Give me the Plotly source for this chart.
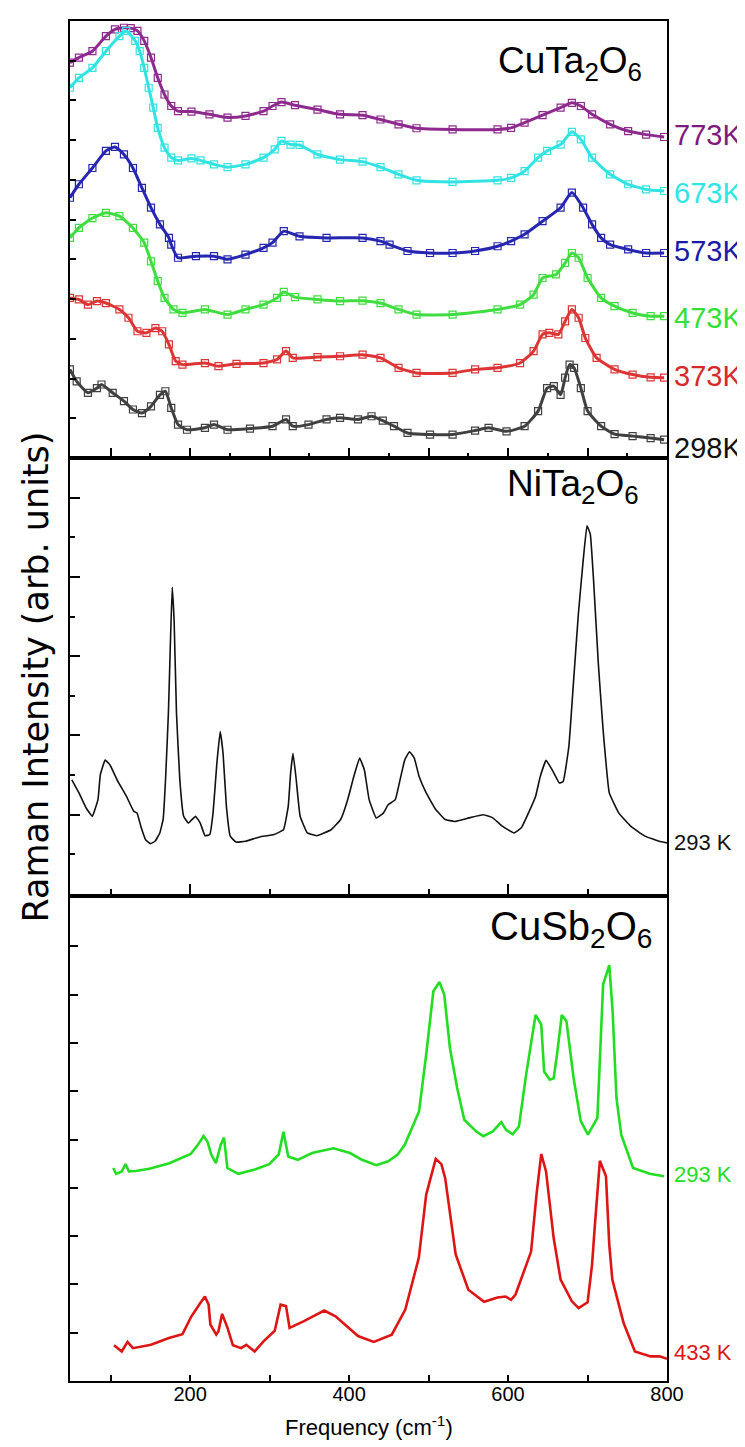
import plotly.graph_objects as go

# ---------------- data ----------------
# Top panel: CuTa2O6 at several temperatures (x in cm^-1, y in arb. units, offset stacked)
x_773 = [48.7, 60.0, 77.0, 94.0, 105.4, 116.7, 125.2, 133.7, 142.2, 150.7, 159.2, 167.7, 176.2, 184.7, 201.6,
         224.3, 247.0, 269.6, 292.3, 303.6, 314.9, 331.9, 360.2, 388.6, 416.9, 439.5, 462.2, 484.8, 530.2, 586.8,
         603.8, 620.8, 643.4, 666.1, 680.3, 691.6, 705.7, 728.4, 751.1, 773.7, 796.4]
y_773 = [9.95, 10.08, 10.24, 10.62, 10.79, 10.83, 10.82, 10.75, 10.50, 10.08, 9.57, 9.15, 8.86, 8.73, 8.72,
         8.65, 8.57, 8.61, 8.73, 8.86, 8.96, 8.88, 8.77, 8.65, 8.63, 8.52, 8.40, 8.30, 8.27, 8.27,
         8.31, 8.44, 8.63, 8.82, 8.94, 8.86, 8.65, 8.40, 8.23, 8.14, 8.08]

x_673 = [48.7, 60.0, 77.0, 94.0, 111.0, 119.5, 130.8, 136.5, 142.2, 147.8, 153.5, 159.2, 167.7, 176.2, 184.7,
         201.6, 213.0, 230.0, 247.0, 269.6, 292.3, 306.4, 314.9, 326.3, 337.6, 360.2, 388.6, 416.9, 439.5, 462.2,
         484.8, 530.2, 586.8, 603.8, 620.8, 637.8, 649.1, 666.1, 680.3, 691.6, 705.7, 728.4, 751.1, 773.7, 796.4]
y_673 = [9.32, 9.57, 9.82, 10.24, 10.62, 10.75, 10.50, 10.24, 9.82, 9.32, 8.82, 8.31, 7.81, 7.56, 7.49,
         7.54, 7.49, 7.39, 7.32, 7.39, 7.56, 7.77, 7.98, 7.89, 7.88, 7.64, 7.51, 7.46, 7.32, 7.14,
         6.99, 6.95, 6.99, 7.05, 7.22, 7.56, 7.73, 7.89, 8.21, 8.02, 7.56, 7.14, 6.89, 6.76, 6.72]

x_573 = [48.7, 60.0, 77.0, 94.0, 105.4, 116.7, 128.0, 139.3, 150.7, 162.0, 173.3, 176.2, 184.7, 207.3, 230.0,
         247.0, 269.6, 292.3, 303.6, 317.8, 337.6, 371.6, 416.9, 439.5, 450.9, 473.5, 501.8, 530.2, 558.5, 586.8,
         603.8, 620.8, 643.4, 666.1, 680.3, 694.4, 705.7, 717.1, 728.4, 751.1, 773.7, 796.4]
y_573 = [6.55, 6.89, 7.30, 7.73, 7.83, 7.64, 7.30, 6.80, 6.30, 5.88, 5.54, 5.37, 5.04, 5.08, 5.08,
         5.00, 5.12, 5.29, 5.42, 5.71, 5.58, 5.54, 5.54, 5.46, 5.37, 5.21, 5.16, 5.16, 5.21, 5.33,
         5.46, 5.63, 5.96, 6.30, 6.68, 6.30, 5.88, 5.54, 5.37, 5.25, 5.16, 5.16]

x_473 = [48.7, 60.0, 77.0, 94.0, 111.0, 128.0, 142.2, 150.7, 159.2, 167.7, 179.0, 190.3, 218.6, 247.0, 269.6,
         292.3, 309.3, 317.8, 331.9, 360.2, 388.6, 416.9, 439.5, 462.2, 484.8, 530.2, 586.8, 615.1, 632.1, 643.4,
         660.4, 671.8, 680.3, 688.8, 700.1, 717.1, 734.0, 756.7, 779.4, 796.4]
y_473 = [5.54, 5.79, 6.04, 6.17, 6.09, 5.79, 5.42, 4.95, 4.45, 4.03, 3.74, 3.65, 3.74, 3.61, 3.74,
         3.86, 4.03, 4.18, 4.05, 3.99, 3.95, 3.96, 3.90, 3.74, 3.61, 3.61, 3.74, 3.86, 4.11, 4.53,
         4.62, 4.91, 5.16, 5.04, 4.53, 4.03, 3.82, 3.65, 3.57, 3.57]

x_373 = [48.7, 60.0, 71.4, 82.7, 94.0, 111.0, 122.4, 133.7, 145.0, 156.3, 164.8, 173.3, 181.8, 190.3, 218.6,
         235.6, 258.3, 292.3, 309.3, 320.6, 329.1, 360.2, 388.6, 416.9, 439.5, 462.2, 484.8, 530.2, 558.5, 586.8,
         615.1, 632.1, 643.4, 651.9, 663.3, 671.8, 680.3, 688.8, 697.2, 711.4, 734.0, 756.7, 779.4, 796.4]
y_373 = [4.03, 3.99, 3.86, 3.95, 3.90, 3.74, 3.53, 3.19, 3.15, 3.27, 3.19, 2.86, 2.44, 2.35, 2.39,
         2.31, 2.37, 2.39, 2.48, 2.69, 2.52, 2.54, 2.56, 2.60, 2.52, 2.27, 2.14, 2.14, 2.23, 2.27,
         2.39, 2.69, 3.11, 3.15, 3.11, 3.44, 3.74, 3.53, 3.02, 2.52, 2.23, 2.10, 2.03, 2.02]

x_298 = [48.7, 57.2, 71.4, 82.7, 88.4, 102.5, 116.7, 128.0, 139.3, 150.7, 162.0, 168.8, 176.2, 184.7, 196.0,
         218.6, 230.0, 247.0, 275.3, 303.6, 320.6, 329.1, 348.9, 371.6, 388.6, 411.2, 428.2, 442.4, 456.5, 473.5,
         501.8, 530.2, 558.5, 575.5, 598.1, 620.8, 637.8, 649.1, 657.6, 666.1, 671.8, 677.4, 683.1, 691.6, 700.1,
         717.1, 734.0, 756.7, 779.4, 796.4]
y_298 = [2.23, 1.93, 1.64, 1.76, 1.85, 1.64, 1.43, 1.22, 1.13, 1.30, 1.59, 1.68, 1.26, 0.84, 0.71,
         0.76, 0.84, 0.71, 0.74, 0.80, 0.97, 0.80, 0.84, 0.97, 1.01, 0.97, 1.05, 0.94, 0.80, 0.63,
         0.59, 0.59, 0.69, 0.76, 0.67, 0.80, 1.18, 1.76, 1.81, 1.59, 2.02, 2.35, 2.27, 1.76, 1.18,
         0.80, 0.60, 0.55, 0.50, 0.46]

# Middle panel: NiTa2O6 at 293 K
x_ni = [51.1, 60.1, 69.1, 76.8, 84.0, 87.0, 93.0, 99.0, 108.0, 119.9, 128.9, 133.1, 137.9, 143.9, 149.9,
        155.8, 161.8, 166.0, 169.0, 172.6, 175.0, 177.4, 179.8, 182.8, 187.0, 191.8, 197.7, 206.7, 212.7, 218.7,
        224.7, 228.8, 233.6, 237.8, 241.4, 245.6, 250.4, 257.6, 269.6, 287.5, 305.5, 317.4, 323.4, 326.4, 329.4,
        333.0, 338.4, 347.4, 359.3, 377.3, 389.3, 398.2, 406.0, 413.2, 419.2, 425.2, 434.1, 443.1, 449.1, 458.1,
        464.1, 470.0, 476.0, 482.0, 488.0, 497.0, 509.0, 520.9, 532.9, 550.8, 568.8, 580.8, 592.7, 607.7, 616.7,
        625.6, 634.6, 640.6, 647.8, 655.6, 664.6, 669.4, 676.5, 682.5, 688.5, 694.5, 699.3, 703.5, 707.6, 713.6,
        719.6, 727.4, 739.4, 754.3, 772.3, 790.2, 800.0]
y_ni = [2.88, 2.55, 2.17, 1.96, 2.38, 3.01, 3.38, 3.26, 2.88, 2.46, 2.09, 2.04, 1.71, 1.37, 1.27,
        1.33, 1.54, 1.88, 2.88, 4.56, 6.23, 7.74, 6.90, 4.56, 2.88, 1.96, 1.79, 1.96, 1.79, 1.47,
        1.50, 2.04, 3.30, 4.10, 3.55, 2.21, 1.46, 1.31, 1.33, 1.44, 1.50, 1.62, 2.21, 3.05, 3.55,
        2.97, 1.96, 1.54, 1.47, 1.62, 1.88, 2.38, 2.97, 3.43, 3.13, 2.38, 1.92, 2.04, 2.25, 2.38,
        2.88, 3.38, 3.59, 3.43, 2.97, 2.55, 2.13, 1.88, 1.83, 1.92, 2.00, 1.92, 1.71, 1.54, 1.67,
        2.04, 2.46, 2.97, 3.37, 3.13, 2.80, 2.84, 3.72, 5.39, 7.07, 8.41, 9.29, 9.08, 7.91, 5.81,
        4.14, 2.55, 2.04, 1.71, 1.46, 1.33, 1.29]

# Bottom panel: CuSb2O6 at 293 K and 433 K
x_sb293 = [103.2, 106.8, 114.0, 118.7, 122.9, 131.9, 149.9, 173.8, 200.7, 209.7, 216.9, 221.7, 226.5, 232.4, 238.4,
           242.6, 246.8, 260.6, 281.5, 299.5, 311.4, 317.4, 323.4, 335.4, 353.3, 380.3, 401.2, 416.2, 434.1, 449.1,
           461.1, 470.0, 488.0, 497.0, 506.0, 513.7, 519.7, 526.9, 535.9, 544.9, 559.8, 568.8, 580.8, 591.5, 597.5,
           605.9, 613.7, 622.7, 634.6, 641.8, 645.4, 652.6, 657.4, 661.6, 667.6, 673.5, 682.5, 691.5, 700.5, 712.4,
           719.6, 727.4, 731.6, 736.4, 742.4, 757.3, 778.3, 796.2]
y_sb293 = [4.41, 4.29, 4.34, 4.49, 4.34, 4.35, 4.40, 4.51, 4.70, 4.89, 5.07, 4.96, 4.69, 4.51, 4.89,
           5.04, 4.41, 4.29, 4.38, 4.49, 4.69, 5.16, 4.65, 4.58, 4.72, 4.82, 4.72, 4.58, 4.47, 4.55,
           4.69, 4.89, 5.58, 6.76, 8.07, 8.26, 8.00, 6.89, 6.07, 5.41, 5.17, 5.07, 5.17, 5.36, 5.20,
           5.11, 5.27, 6.34, 7.58, 7.38, 6.41, 6.24, 6.27, 6.76, 7.58, 7.45, 6.27, 5.38, 5.10, 5.45,
           8.21, 8.61, 7.65, 5.86, 5.10, 4.41, 4.29, 4.24]

x_sb433 = [104.2, 113.9, 121.2, 128.0, 150.7, 173.3, 190.3, 201.6, 213.0, 218.6, 223.2, 225.4, 232.8, 235.6, 240.2,
           247.0, 253.8, 264.0, 270.7, 281.1, 292.3, 306.4, 313.8, 320.6, 325.1, 343.2, 368.7, 382.9, 411.2, 431.0,
           453.7, 470.7, 487.7, 497.0, 509.0, 516.1, 520.9, 534.1, 550.0, 569.8, 586.8, 597.0, 603.8, 609.4, 629.0,
           635.8, 641.8, 647.8, 657.4, 666.1, 680.3, 688.8, 700.1, 705.7, 709.0, 715.5, 723.2, 727.4, 731.2, 745.4,
           759.6, 779.4, 790.7, 800.0]
y_sb433 = [0.74, 0.61, 0.81, 0.68, 0.75, 0.89, 0.97, 1.34, 1.62, 1.75, 1.58, 1.17, 0.96, 1.03, 1.39,
           1.10, 0.74, 0.68, 0.75, 0.61, 0.82, 1.04, 1.58, 1.55, 1.10, 1.24, 1.46, 1.34, 0.93, 0.81,
           0.96, 1.48, 2.55, 3.86, 4.60, 4.49, 4.20, 2.62, 1.89, 1.64, 1.73, 1.75, 1.68, 1.79, 2.68,
           3.86, 4.70, 4.34, 2.96, 2.10, 1.65, 1.51, 1.63, 2.41, 3.17, 4.56, 4.24, 2.82, 2.10, 1.20,
           0.61, 0.51, 0.51, 0.46]

top_labels = ["773K", "673K", "573K", "473K", "373K", "298K"]
top_label_y = [8.13, 6.68, 5.21, 3.53, 2.07, 0.25]
top_colors = ["#8E2A8E", "#33E3E3", "#2626B0", "#40DD40", "#DD3535", "#404040"]
top_label_colors = ["#7E1A7E", "#2EE6E6", "#1A1AA8", "#35E035", "#D62A2A", "#111111"]

x_range = [48.8, 800]

# ---------------- figure ----------------
fig = go.Figure()
FONT = "Arial, Liberation Sans, sans-serif"

top_x = [x_773, x_673, x_573, x_473, x_373, x_298]
top_y = [y_773, y_673, y_573, y_473, y_373, y_298]
for xs, ys, c, name in zip(top_x, top_y, top_colors, top_labels):
    fig.add_trace(go.Scatter(
        x=xs, y=ys, mode="lines+markers", name=name, xaxis="x", yaxis="y",
        line=dict(color=c, width=3, shape="spline", smoothing=0.5),
        marker=dict(symbol="square-open", size=7, color=c, line=dict(width=1.2, color=c)),
        showlegend=False, hoverinfo="skip"))

fig.add_trace(go.Scatter(x=x_ni, y=y_ni, mode="lines", xaxis="x2", yaxis="y2",
                         line=dict(color="#111111", width=1.6, shape="spline", smoothing=0.3),
                         showlegend=False, hoverinfo="skip"))
fig.add_trace(go.Scatter(x=x_sb293, y=y_sb293, mode="lines", xaxis="x3", yaxis="y3",
                         line=dict(color="#22DD22", width=2.6), showlegend=False, hoverinfo="skip"))
fig.add_trace(go.Scatter(x=x_sb433, y=y_sb433, mode="lines", xaxis="x3", yaxis="y3",
                         line=dict(color="#DD1515", width=2.6), showlegend=False, hoverinfo="skip"))

axis_common = dict(showline=True, linecolor="black", linewidth=2.2, mirror=True,
                   showgrid=False, zeroline=False, ticks="inside", tickcolor="black", tickwidth=1.5)

fig.update_layout(
    width=745, height=1447,
    margin=dict(l=62, r=86, t=13, b=74),
    paper_bgcolor="white", plot_bgcolor="white",
    font=dict(family=FONT, color="black"),
    xaxis=dict(axis_common, domain=[0, 1], anchor="y", range=x_range, showticklabels=False,
               dtick=100, tick0=0, ticklen=10,
               minor=dict(dtick=50, tick0=0, ticklen=5, ticks="inside", tickcolor="black", tickwidth=1.5)),
    yaxis=dict(axis_common, domain=[0.6787, 1.0], anchor="x", range=[0, 11], showticklabels=False,
               dtick=1, tick0=0, ticklen=6),
    xaxis2=dict(axis_common, domain=[0, 1], anchor="y2", range=x_range, showticklabels=False,
                dtick=200, tick0=0, ticklen=10,
                minor=dict(dtick=100, tick0=0, ticklen=5, ticks="inside", tickcolor="black", tickwidth=1.5)),
    yaxis2=dict(axis_common, domain=[0.3581, 0.6787], anchor="x2", range=[0, 11], showticklabels=False,
                dtick=2, tick0=0, ticklen=10,
                minor=dict(dtick=1, tick0=0, ticklen=5, ticks="inside", tickcolor="black", tickwidth=1.5)),
    xaxis3=dict(axis_common, domain=[0, 1], anchor="y3", range=x_range, showticklabels=True,
                dtick=200, tick0=0, ticklen=6, ticklabelstandoff=-6,
                tickfont=dict(family=FONT, size=20, color="black"),
                minor=dict(dtick=100, tick0=0, ticklen=6, ticks="inside", tickcolor="black", tickwidth=1.5)),
    yaxis3=dict(axis_common, domain=[0, 0.3551], anchor="x3", range=[0, 10], showticklabels=False,
                dtick=1, tick0=0, ticklen=8),
)

annotations = []
# temperature labels, top panel
for lab, yv, c in zip(top_labels, top_label_y, top_label_colors):
    annotations.append(dict(text=lab, xref="paper", x=1.0, xshift=5, xanchor="left",
                            yref="y", y=yv, yanchor="middle", showarrow=False,
                            font=dict(family=FONT, size=29, color=c)))
# middle label
annotations.append(dict(text="293 K", xref="paper", x=1.0, xshift=5, xanchor="left",
                        yref="y2", y=1.3, yanchor="middle", showarrow=False,
                        font=dict(family=FONT, size=22, color="#111111")))
# bottom labels
annotations.append(dict(text="293 K", xref="paper", x=1.0, xshift=5, xanchor="left",
                        yref="y3", y=4.27, yanchor="middle", showarrow=False,
                        font=dict(family=FONT, size=22, color="#22DD22")))
annotations.append(dict(text="433 K", xref="paper", x=1.0, xshift=5, xanchor="left",
                        yref="y3", y=0.60, yanchor="middle", showarrow=False,
                        font=dict(family=FONT, size=22, color="#DD1515")))
# compound names
annotations.append(dict(text="CuTa<sub>2</sub>O<sub>6</sub>", xref="paper", x=0.962, xanchor="right",
                        yref="y", y=9.95, yanchor="middle", showarrow=False,
                        font=dict(family=FONT, size=37, color="black")))
annotations.append(dict(text="NiTa<sub>2</sub>O<sub>6</sub>", xref="paper", x=0.957, xanchor="right",
                        yref="y2", y=10.3, yanchor="middle", showarrow=False,
                        font=dict(family=FONT, size=37, color="black")))
annotations.append(dict(text="CuSb<sub>2</sub>O<sub>6</sub>", xref="paper", x=0.978, xanchor="right",
                        yref="y3", y=9.35, yanchor="middle", showarrow=False,
                        font=dict(family=FONT, size=40, color="black")))
# axis titles
annotations.append(dict(text="Raman Intensity (arb. units)", xref="paper", x=-0.057, xanchor="center",
                        yref="paper", y=0.518, yanchor="middle", textangle=-90, showarrow=False,
                        font=dict(family="DejaVu Sans, sans-serif", size=35, color="black")))
annotations.append(dict(text="Frequency (cm<sup>-1</sup>)", xref="paper", x=0.5, xanchor="center",
                        yref="paper", y=-0.033, yanchor="middle", showarrow=False,
                        font=dict(family=FONT, size=22, color="black")))
fig.update_layout(annotations=annotations)

fig.write_html("out.html")
